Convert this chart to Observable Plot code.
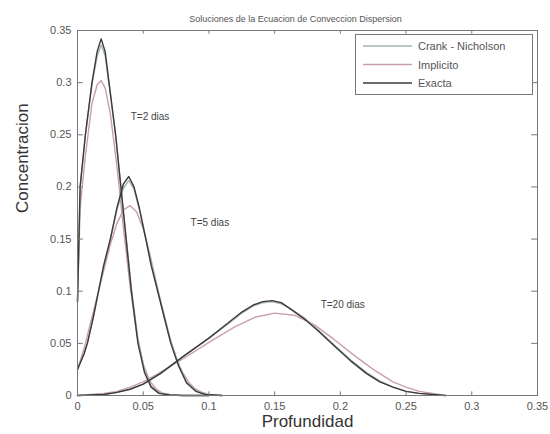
<!DOCTYPE html>
<html>
<head>
<meta charset="utf-8">
<script src="https://cdn.jsdelivr.net/npm/d3@7"></script>
<script src="https://cdn.jsdelivr.net/npm/@observablehq/plot@0.6"></script>
<style>
  html, body { margin: 0; padding: 0; background: #fff; }
  #wrap { position: relative; width: 550px; height: 434px; }
  #legend { position: absolute; left: 355px; top: 34px; width: 178px; height: 61px;
            border: 1px solid #777; background: #fff; box-sizing: border-box;
            font-family: "Liberation Sans", Arial, sans-serif; font-size: 11px; color: #333; }
</style>
</head>
<body>
<div id="wrap"></div>
<script>
// ---- data ----
const title = "Soluciones de la Ecuacion de Conveccion Dispersion";
const xLabel = "Profundidad";
const yLabel = "Concentracion";
const methods = ["Crank - Nicholson", "Implicito", "Exacta"];
const methodColors = ["#a3b5b3", "#c9a0a8", "#3a3a3a"];
const xTicks = [0, 0.05, 0.1, 0.15, 0.2, 0.25, 0.3, 0.35];
const yTicks = [0, 0.05, 0.1, 0.15, 0.2, 0.25, 0.3, 0.35];

// T = 2 dias
const t2X = [0, 0.002, 0.006, 0.011, 0.015, 0.018, 0.021, 0.024, 0.029, 0.033, 0.037, 0.041, 0.046, 0.051, 0.056, 0.062, 0.07, 0.08, 0.1];
const t2Exacta = [0.09, 0.2, 0.25, 0.3, 0.33, 0.342, 0.33, 0.3, 0.25, 0.2, 0.15, 0.1, 0.05, 0.022, 0.008, 0.002, 0.0005, 0, 0];
const t2CN = [0.09, 0.2, 0.25, 0.298, 0.326, 0.336, 0.326, 0.298, 0.25, 0.2, 0.152, 0.103, 0.054, 0.024, 0.009, 0.003, 0.001, 0, 0];
const t2ImpX = [0, 0.002, 0.006, 0.011, 0.015, 0.018, 0.021, 0.025, 0.03, 0.035, 0.04, 0.045, 0.05, 0.055, 0.06, 0.065, 0.07, 0.08, 0.1];
const t2Implicito = [0.09, 0.18, 0.23, 0.28, 0.298, 0.302, 0.295, 0.27, 0.22, 0.16, 0.105, 0.06, 0.03, 0.014, 0.006, 0.002, 0.001, 0, 0];

// T = 5 dias
const t5X = [0, 0.005, 0.0075, 0.012, 0.016, 0.02, 0.025, 0.03, 0.035, 0.039, 0.043, 0.047, 0.052, 0.056, 0.061, 0.066, 0.071, 0.077, 0.083, 0.09, 0.097, 0.11];
const t5Exacta = [0.025, 0.04, 0.05, 0.075, 0.1, 0.125, 0.15, 0.18, 0.203, 0.21, 0.2, 0.18, 0.15, 0.125, 0.1, 0.075, 0.05, 0.028, 0.012, 0.004, 0.001, 0];
const t5CN = [0.025, 0.04, 0.05, 0.075, 0.1, 0.125, 0.15, 0.178, 0.199, 0.206, 0.198, 0.179, 0.151, 0.127, 0.102, 0.077, 0.052, 0.03, 0.013, 0.005, 0.001, 0];
const t5ImpX = [0, 0.005, 0.01, 0.015, 0.02, 0.025, 0.03, 0.035, 0.04, 0.045, 0.05, 0.055, 0.06, 0.065, 0.07, 0.075, 0.08, 0.085, 0.09, 0.095, 0.1, 0.11];
const t5Implicito = [0.025, 0.045, 0.07, 0.095, 0.12, 0.145, 0.165, 0.178, 0.182, 0.176, 0.16, 0.136, 0.108, 0.08, 0.056, 0.036, 0.022, 0.012, 0.006, 0.003, 0.001, 0];

// T = 20 dias
const t20X = [0, 0.02, 0.03, 0.04, 0.05, 0.063, 0.08, 0.1, 0.115, 0.125, 0.134, 0.141, 0.148, 0.155, 0.162, 0.172, 0.183, 0.195, 0.208, 0.22, 0.23, 0.24, 0.25, 0.26, 0.28];
const t20Exacta = [0, 0.001, 0.003, 0.006, 0.011, 0.021, 0.037, 0.055, 0.07, 0.08, 0.087, 0.09, 0.091, 0.089, 0.083, 0.074, 0.062, 0.048, 0.033, 0.021, 0.013, 0.008, 0.004, 0.002, 0];
const t20CN = [0, 0.001, 0.003, 0.006, 0.011, 0.021, 0.037, 0.055, 0.069, 0.079, 0.086, 0.089, 0.09, 0.088, 0.083, 0.075, 0.063, 0.049, 0.034, 0.022, 0.014, 0.008, 0.004, 0.002, 0];
const t20ImpX = [0, 0.02, 0.03, 0.04, 0.05, 0.06, 0.08, 0.1, 0.12, 0.135, 0.15, 0.165, 0.18, 0.195, 0.21, 0.225, 0.24, 0.25, 0.26, 0.28];
const t20Implicito = [0, 0.002, 0.004, 0.008, 0.013, 0.02, 0.035, 0.051, 0.066, 0.075, 0.079, 0.077, 0.068, 0.054, 0.039, 0.025, 0.013, 0.008, 0.004, 0];

// annotations
const annText = ["T=2 dias", "T=5 dias", "T=20 dias"];
const annX = [0.0405, 0.086, 0.185];
const annY = [0.267, 0.166, 0.0865];

// ---- build table ----
const rows = [];
function add(T, method, xs, ys) { xs.forEach((x, i) => rows.push({T, method, x, y: ys[i], key: T + method})); }
add(2, "Implicito", t2ImpX, t2Implicito);
add(5, "Implicito", t5ImpX, t5Implicito);
add(20, "Implicito", t20ImpX, t20Implicito);
add(2, "Crank - Nicholson", t2X, t2CN);
add(5, "Crank - Nicholson", t5X, t5CN);
add(20, "Crank - Nicholson", t20X, t20CN);
add(2, "Exacta", t2X, t2Exacta);
add(5, "Exacta", t5X, t5Exacta);
add(20, "Exacta", t20X, t20Exacta);
const ann = annText.map((t, i) => ({t, x: annX[i], y: annY[i]}));

const fmt = d => String(d);
const tickLen = 0.0035;

const chart = Plot.plot({
  width: 550, height: 434,
  marginLeft: 77, marginRight: 13, marginTop: 30, marginBottom: 39,
  style: {fontFamily: "'Liberation Sans', Arial, sans-serif", fontSize: "11px", color: "#333", background: "#fff"},
  x: {domain: [0, 0.35]},
  y: {domain: [0, 0.35]},
  color: {domain: methods, range: methodColors},
  marks: [
    Plot.line(rows, {x: "x", y: "y", z: "key", stroke: "method", strokeWidth: 1.4}),
    Plot.text(ann, {x: "x", y: "y", text: "t", textAnchor: "start", fontSize: 10, fill: "#444"}),
    // inward ticks on all four sides
    Plot.ruleX(xTicks, {y1: 0, y2: tickLen, stroke: "#777"}),
    Plot.ruleX(xTicks, {y1: 0.35 - tickLen, y2: 0.35, stroke: "#777"}),
    Plot.ruleY(yTicks, {x1: 0, x2: tickLen * 1.26, stroke: "#777"}),
    Plot.ruleY(yTicks, {x1: 0.35 - tickLen * 1.26, x2: 0.35, stroke: "#777"}),
    Plot.axisX({ticks: xTicks, tickSize: 0, tickPadding: 7, tickFormat: fmt, label: null, fill: "#555"}),
    Plot.axisY({ticks: yTicks, tickSize: 0, tickPadding: 6, tickFormat: fmt, label: null, fill: "#555"}),
    Plot.frame({stroke: "#777"}),
    Plot.text([title], {frameAnchor: "top", dy: -15, dx: -12, fontSize: 9, fill: "#555"}),
    Plot.text([xLabel], {frameAnchor: "bottom", dy: 31, fontSize: 17, fill: "#333"}),
    Plot.text([yLabel], {frameAnchor: "left", dx: -55, rotate: -90, fontSize: 17, fill: "#333"})
  ]
});

const wrap = document.getElementById("wrap");
wrap.appendChild(chart);

// legend overlay
const legend = document.createElement("div");
legend.id = "legend";
const ns = "http://www.w3.org/2000/svg";
const lsvg = document.createElementNS(ns, "svg");
lsvg.setAttribute("width", 176); lsvg.setAttribute("height", 59);
methods.forEach((m, i) => {
  const yy = 11 + i * 18.5;
  const ln = document.createElementNS(ns, "line");
  ln.setAttribute("x1", 7); ln.setAttribute("x2", 56);
  ln.setAttribute("y1", yy); ln.setAttribute("y2", yy);
  ln.setAttribute("stroke", methodColors[i]); ln.setAttribute("stroke-width", 1.4);
  lsvg.appendChild(ln);
  const tx = document.createElementNS(ns, "text");
  tx.setAttribute("x", 62); tx.setAttribute("y", yy + 4);
  tx.setAttribute("font-size", 11); tx.setAttribute("fill", "#555");
  tx.textContent = m;
  lsvg.appendChild(tx);
});
legend.appendChild(lsvg);
wrap.appendChild(legend);
</script>
</body>
</html>
